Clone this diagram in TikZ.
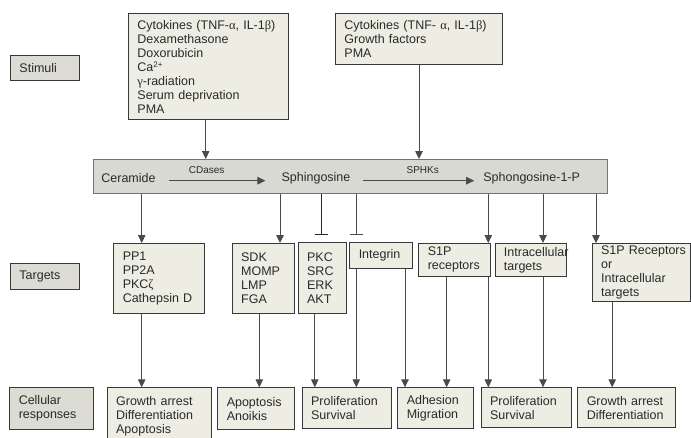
\documentclass[tikz,border=0pt]{standalone}
\usepackage{fontspec}
\setmainfont{Liberation Sans}
\newfontfamily\grk{Liberation Serif}
\usetikzlibrary{arrows.meta,calc}
\definecolor{boxfill}{HTML}{EDEDE3}
\definecolor{labfill}{HTML}{DCDCD4}
\definecolor{bandfill}{HTML}{D9D9D3}
\definecolor{edge}{HTML}{383838}
\definecolor{wire}{HTML}{4A4A4A}
\definecolor{ink}{HTML}{2A2A2A}
\begin{document}
\begin{tikzpicture}[x=1pt,y=-1pt,
  bx/.style={draw=edge, line width=0.9pt, fill=boxfill, anchor=north west,
    inner xsep=9pt, inner ysep=0pt, align=left, text=ink,
    font=\fontsize{12.5}{14}\selectfont},
  lab/.style={bx, fill=labfill},
  band/.style={draw=edge!70, line width=0.8pt, fill=bandfill, anchor=north west, inner sep=0pt},
  word/.style={text=ink, font=\fontsize{12.5}{14}\selectfont, inner sep=0pt},
  small/.style={text=ink, font=\fontsize{10}{12}\selectfont, inner sep=0pt},
  arr/.style={draw=wire, line width=0.9pt, -{Triangle[width=7.5pt,length=8pt]}},
  inh/.style={draw=wire, line width=0.9pt, -{Bar[width=13pt,line width=0.9pt]}},
  ln/.style={draw=wire, line width=0.9pt}]
\useasboundingbox (0,0) rectangle (691,437);
\clip (0,0) rectangle (691,437);
\fill[white] (0,0) rectangle (691,437);

% row labels
\node[lab, text width=51pt, minimum height=25pt] (stim) at (10,55) {Stimuli};
\node[lab, text width=51pt, minimum height=25.5pt] (tgt) at (10,263) {Targets};
\node[lab, text width=66pt, minimum height=41.7pt] (cell) at (9.3,387.3) {Cellular\\responses};

% stimuli
\node[bx, text width=142pt, minimum height=105.7pt] (s1) at (128,13.3)
  {\mbox{Cytokines (TNF-{\grk α}, IL-1{\grk β})}\\Dexamethasone\\Doxorubicin\\Ca{\fontsize{8}{8}\selectfont\raisebox{3.5pt}{2+}}\\{\grk γ}-radiation\\\mbox{Serum deprivation}\\PMA};
\node[bx, text width=149pt, minimum height=50.7pt] (s2) at (335,13.3)
  {\mbox{Cytokines (TNF- {\grk α}, IL-1{\grk β})}\\Growth factors\\PMA};

% metabolic band
\node[band, minimum width=514pt, minimum height=34pt] (bandn) at (93,159) {};
\node[word] (cer) at (128.5,178) {Ceramide};
\node[word] (sph) at (316,178) {Sphingosine};
\node[word] (sip) at (531.7,178) {Sphongosine-1-P};
\node[small] (cdl) at (206.7,170) {CDases};
\node[small] (spl) at (422.7,170) {SPHKs};
\draw[arr] ([shift={(13pt,-2.7pt)}]cer.east) -- ([shift={(-16pt,-2.7pt)}]sph.west);
\draw[arr] ([shift={(12pt,-2.7pt)}]sph.east) -- ([shift={(-9pt,-2.7pt)}]sip.west);

% targets
\node[bx, text width=72.7pt, minimum height=70pt] (pp1) at (113.3,243)
  {PP1\\PP2A\\PKC{\grk ζ}\\\mbox{Cathepsin D}};
\node[bx, text width=44.3pt, minimum height=70pt] (sdk) at (231.7,243)
  {SDK\\MOMP\\LMP\\FGA};
\node[bx, text width=30.3pt, minimum height=71pt] (pkc) at (297.7,242.3)
  {PKC\\SRC\\ERK\\AKT};
\node[bx, text width=44.3pt, minimum height=25.4pt] (intg) at (349.3,242.3) {Integrin};
\node[bx, text width=53.7pt, minimum height=32.7pt] (s1pr) at (418.3,243) {S1P\\\mbox{receptors}};
\node[bx, text width=54.3pt, minimum height=32.7pt, inner xsep=8.5pt] (intra) at (495,243) {\mbox{Intracellular}\\targets};
\node[bx, text width=80.3pt, minimum height=57.5pt] (s1por) at (591.7,243.2)
  {\mbox{S1P Receptors}\\or\\\mbox{Intracellular}\\targets};

% responses
\node[bx, text width=86pt, minimum height=57pt] (r1) at (106.7,387.3)
  {\mbox{Growth arrest}\\\mbox{Differentiation}\\Apoptosis};
\node[bx, text width=58.7pt, minimum height=41.7pt] (r2) at (217.3,387.3) {Apoptosis\\Anoikis};
\node[bx, text width=71.3pt, minimum height=41pt] (r3) at (301.7,387.3) {\mbox{Proliferation}\\Survival};
\node[bx, text width=57.4pt, minimum height=41pt] (r4) at (397.3,387.3) {Adhesion\\Migration};
\node[bx, text width=72pt, minimum height=40pt] (r5) at (480.7,387.3) {\mbox{Proliferation}\\Survival};
\node[bx, text width=79.7pt, minimum height=40pt] (r6) at (577.3,387.3) {\mbox{Growth arrest}\\\mbox{Differentiation}};

% stimuli -> band
\coordinate (a1) at (205.7,0);
\coordinate (a2) at (419,0);
\draw[arr] (s1.south -| a1) -- (bandn.north -| a1);
\draw[arr] (s2.south -| a2) -- (bandn.north -| a2);

% band -> targets
\coordinate (c1) at (141.7,0);
\coordinate (c2) at (280,0);
\coordinate (c3) at (321.5,0);
\coordinate (c4) at (356,0);
\coordinate (c5) at (488.3,0);
\coordinate (c6) at (543,0);
\coordinate (c7) at (596,0);
\coordinate (i3) at (321.5,235);
\coordinate (i4) at (356,235);
\draw[arr] (bandn.south -| c1) -- (pp1.north -| c1);
\draw[arr] (bandn.south -| c2) -- (sdk.north -| c2);
\draw[inh, draw=black!85] (bandn.south -| c3) -- (i3);
\draw[inh] (bandn.south -| c4) -- (i4);
\draw[arr] (bandn.south -| c5) -- (s1pr.north -| c5);
\draw[arr] (bandn.south -| c6) -- (intra.north -| c6);
\draw[arr] (bandn.south -| c7) -- (s1por.north -| c7);

% targets -> responses
\coordinate (d1) at (141.7,0);
\coordinate (d2) at (259.3,0);
\coordinate (d3) at (314.8,0);
\coordinate (d4) at (356.3,0);
\coordinate (d5) at (405,0);
\coordinate (d6) at (446.7,0);
\coordinate (d7) at (488.3,0);
\coordinate (d8) at (543,0);
\coordinate (d9) at (612.2,0);
\draw[arr] (pp1.south -| d1) -- (r1.north -| d1);
\draw[arr] (sdk.south -| d2) -- (r2.north -| d2);
\draw[arr] (pkc.south -| d3) -- (r3.north -| d3);
\draw[arr] (intg.south -| d4) -- (r3.north -| d4);
\draw[arr] (intg.south -| d5) -- (r4.north -| d5);
\draw[arr] (s1pr.south -| d6) -- (r4.north -| d6);
\draw[arr] (s1pr.south -| d7) -- (r5.north -| d7);
\draw[arr] (intra.south -| d8) -- (r5.north -| d8);
\draw[arr] (s1por.south -| d9) -- (r6.north -| d9);
\end{tikzpicture}
\end{document}
